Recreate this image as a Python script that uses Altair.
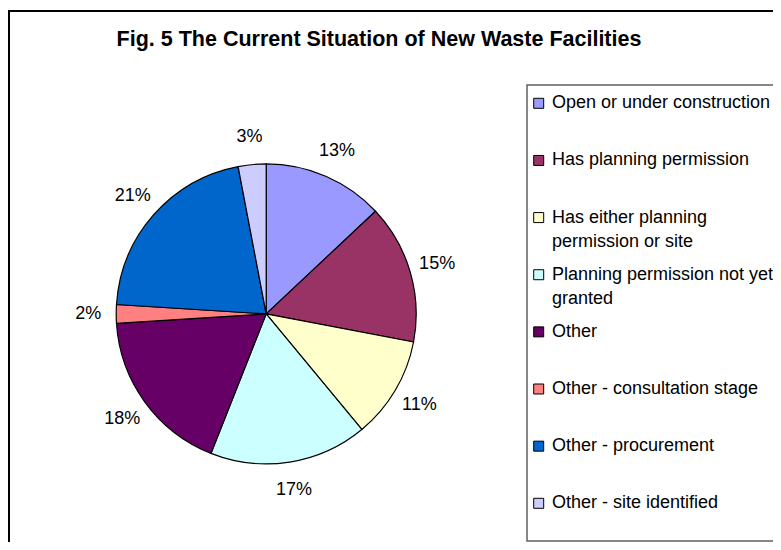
import altair as alt
import pandas as pd

# ---- data ----
categories = [
    "Open or under construction",
    "Has planning permission",
    "Has either planning permission or site",
    "Planning permission not yet granted",
    "Other",
    "Other - consultation stage",
    "Other - procurement",
    "Other - site identified",
]
legend_labels = [
    "Open or under construction",
    "Has planning permission",
    "Has either planning\npermission or site",
    "Planning permission not yet\ngranted",
    "Other",
    "Other - consultation stage",
    "Other - procurement",
    "Other - site identified",
]
shares = [13, 15, 11, 17, 18, 2, 21, 3]
colors = ["#9999FF", "#993366", "#FFFFCC", "#CCFFFF", "#660066", "#FF8080", "#0066CC", "#CCCCFF"]
title_text = "Fig. 5 The Current Situation of New Waste Facilities"

df = pd.DataFrame({
    "category": categories,
    "legend": legend_labels,
    "share": shares,
    "order": list(range(len(categories))),
    "label": [f"{v}%" for v in shares],
})

FONT = "Liberation Sans"
W, H = 765, 534
CX, CY, R = 258.2, 305.9, 150

color = alt.Color("category:N", scale=alt.Scale(domain=categories, range=colors), legend=None)
base = alt.Chart(df)

frame = alt.Chart(pd.DataFrame({"a": [0]})).mark_rect(
    fill="white", stroke="black", strokeWidth=2
).encode(x=alt.value(1), x2=alt.value(1200), y=alt.value(3), y2=alt.value(1200))

box = alt.Chart(pd.DataFrame({"a": [0]})).mark_rect(
    fill="white", stroke="#606060", strokeWidth=1.5
).encode(x=alt.value(519), x2=alt.value(1200), y=alt.value(77), y2=alt.value(533))

pie = base.mark_arc(outerRadius=R, stroke="black", strokeWidth=1.2).encode(
    theta=alt.Theta("share:Q", stack=True),
    color=color,
    order=alt.Order("order:Q", sort="ascending"),
    x=alt.value(CX),
    y=alt.value(CY),
)

labels = base.mark_text(radius=178, fontSize=18, font=FONT, color="black").encode(
    theta=alt.Theta("share:Q", stack=True),
    order=alt.Order("order:Q", sort="ascending"),
    text="label:N",
    x=alt.value(CX),
    y=alt.value(CY),
)

yscale = alt.Y(
    "category:N",
    scale=alt.Scale(type="point", domain=categories, range=[95.3, 495.3], padding=0),
    axis=None,
)

swatches = base.mark_square(size=100, stroke="black", strokeWidth=1, opacity=1).encode(
    x=alt.value(530.7), y=yscale, color=color
)

legend_text = base.mark_text(
    align="left", baseline="alphabetic", dy=5, fontSize=18, font=FONT,
    lineBreak="\n", lineHeight=24.6, color="black"
).encode(x=alt.value(544), y=yscale, text="legend:N")

title = alt.Chart(pd.DataFrame({"t": [title_text]})).mark_text(
    fontSize=21.5, fontWeight="bold", font=FONT, color="black", baseline="middle"
).encode(x=alt.value(371), y=alt.value(31.5), text="t:N")

chart = alt.layer(frame, box, pie, labels, swatches, legend_text, title).properties(
    width=W, height=H, autosize=alt.AutoSizeParams(type="none"), padding=0
).configure_view(stroke=None)

chart.save("out.html", embed_options={"renderer": "svg", "actions": False})
